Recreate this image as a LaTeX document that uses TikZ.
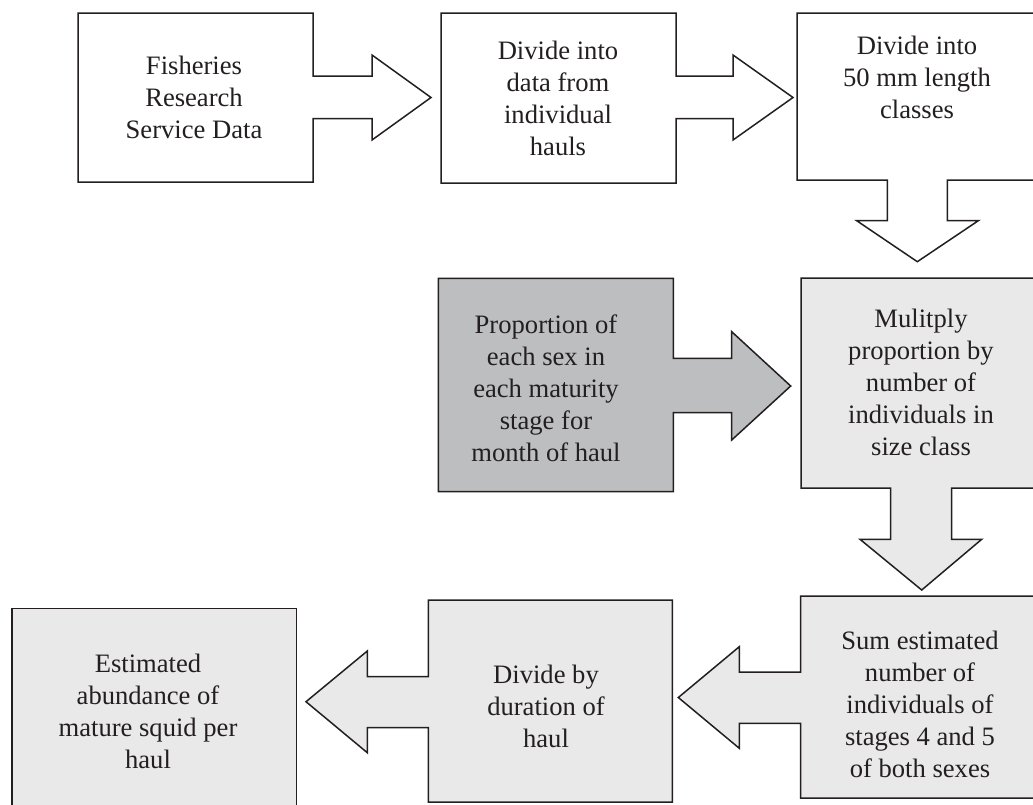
\documentclass[tikz,border=0pt]{standalone}
\usepackage{fontspec}
\setmainfont{Liberation Serif}
\definecolor{ink}{HTML}{231F20}
\definecolor{lightfill}{HTML}{E9E9EA}
\definecolor{darkfill}{HTML}{BDBEC0}
\tikzset{
  shapebox/.style={draw=ink, line width=1.5pt, line join=miter},
  whitebox/.style={shapebox, fill=white},
  lightbox/.style={shapebox, fill=lightfill},
  darkbox/.style={shapebox, fill=darkfill},
  label/.style={text=ink, align=center, inner sep=0pt, font=\fontsize{26.6}{32}\selectfont}
}
\begin{document}
\begin{tikzpicture}[x=1pt, y=-1pt]
\useasboundingbox (0,0) rectangle (1033,804);
\clip (0,0) rectangle (1033,804);
% Row 1
\draw[whitebox] (78,13) -- (313,13) -- (313,76) -- (372,76) -- (372,55) -- (431,97.5)
  -- (372,140) -- (372,118.5) -- (313,118.5) -- (313,182) -- (78,182) -- cycle;
\draw[whitebox] (441,13) -- (676,13) -- (676,76) -- (733,76) -- (733,55) -- (793,97.5)
  -- (733,140) -- (733,118.5) -- (676,118.5) -- (676,183) -- (441,183) -- cycle;
\draw[whitebox] (797,13) -- (1040,13) -- (1040,180) -- (947.3,180) -- (947.3,220.7)
  -- (978.3,220.7) -- (917.3,261.7) -- (856.7,220.7) -- (887.3,220.7) -- (887.3,180)
  -- (797,180) -- cycle;
% Row 2
\draw[darkbox] (438.3,278.3) -- (673.3,278.3) -- (673.3,358.3) -- (731.7,358.3)
  -- (731.7,331.7) -- (790.7,386) -- (731.7,440) -- (731.7,412.7) -- (673.3,412.7)
  -- (673.3,491.7) -- (438.3,491.7) -- cycle;
\draw[lightbox] (801,278) -- (1045,278) -- (1045,488) -- (951.7,488) -- (951.7,539.3)
  -- (981.7,539.3) -- (921.7,590) -- (860,539.3) -- (890.7,539.3) -- (890.7,488)
  -- (801,488) -- cycle;
% Row 3
\draw[lightbox] (800.7,596) -- (1045,596) -- (1045,798) -- (800.7,798) -- (800.7,723.3)
  -- (739.3,723.3) -- (739.3,748.3) -- (678.3,697.5) -- (739.3,646.7) -- (739.3,672)
  -- (800.7,672) -- cycle;
\draw[lightbox] (428.3,600) -- (672.3,600) -- (672.3,802) -- (428.3,802) -- (428.3,727.5)
  -- (367.3,727.5) -- (367.3,752.7) -- (306,701.7) -- (367.3,651) -- (367.3,676.7)
  -- (428.3,676.7) -- cycle;
\draw[lightbox] (12,608.3) -- (296.7,608.3) -- (296.7,820) -- (12,820) -- cycle;
% Texts
\node[label] (t1) at (194,97.5) {Fisheries\\Research\\Service Data};
\node[label] (t2) at (558,98) {Divide into\\data from\\individual\\hauls};
\node[label] (t3) at (917,77) {Divide into\\50 mm length\\classes};
\node[label] (t4) at (546,388) {Proportion of\\each sex in\\each maturity\\stage for\\month of haul};
\node[label] (t5) at (921,382) {Mulitply\\proportion by\\number of\\individuals in\\size class};
\node[label] (t6) at (920,704) {Sum estimated\\number of\\individuals of\\stages 4 and 5\\of both sexes};
\node[label] (t7) at (546,706) {Divide by\\duration of\\haul};
\node[label] (t8) at (148,711) {Estimated\\abundance of\\mature squid per\\haul};
\end{tikzpicture}
\end{document}
